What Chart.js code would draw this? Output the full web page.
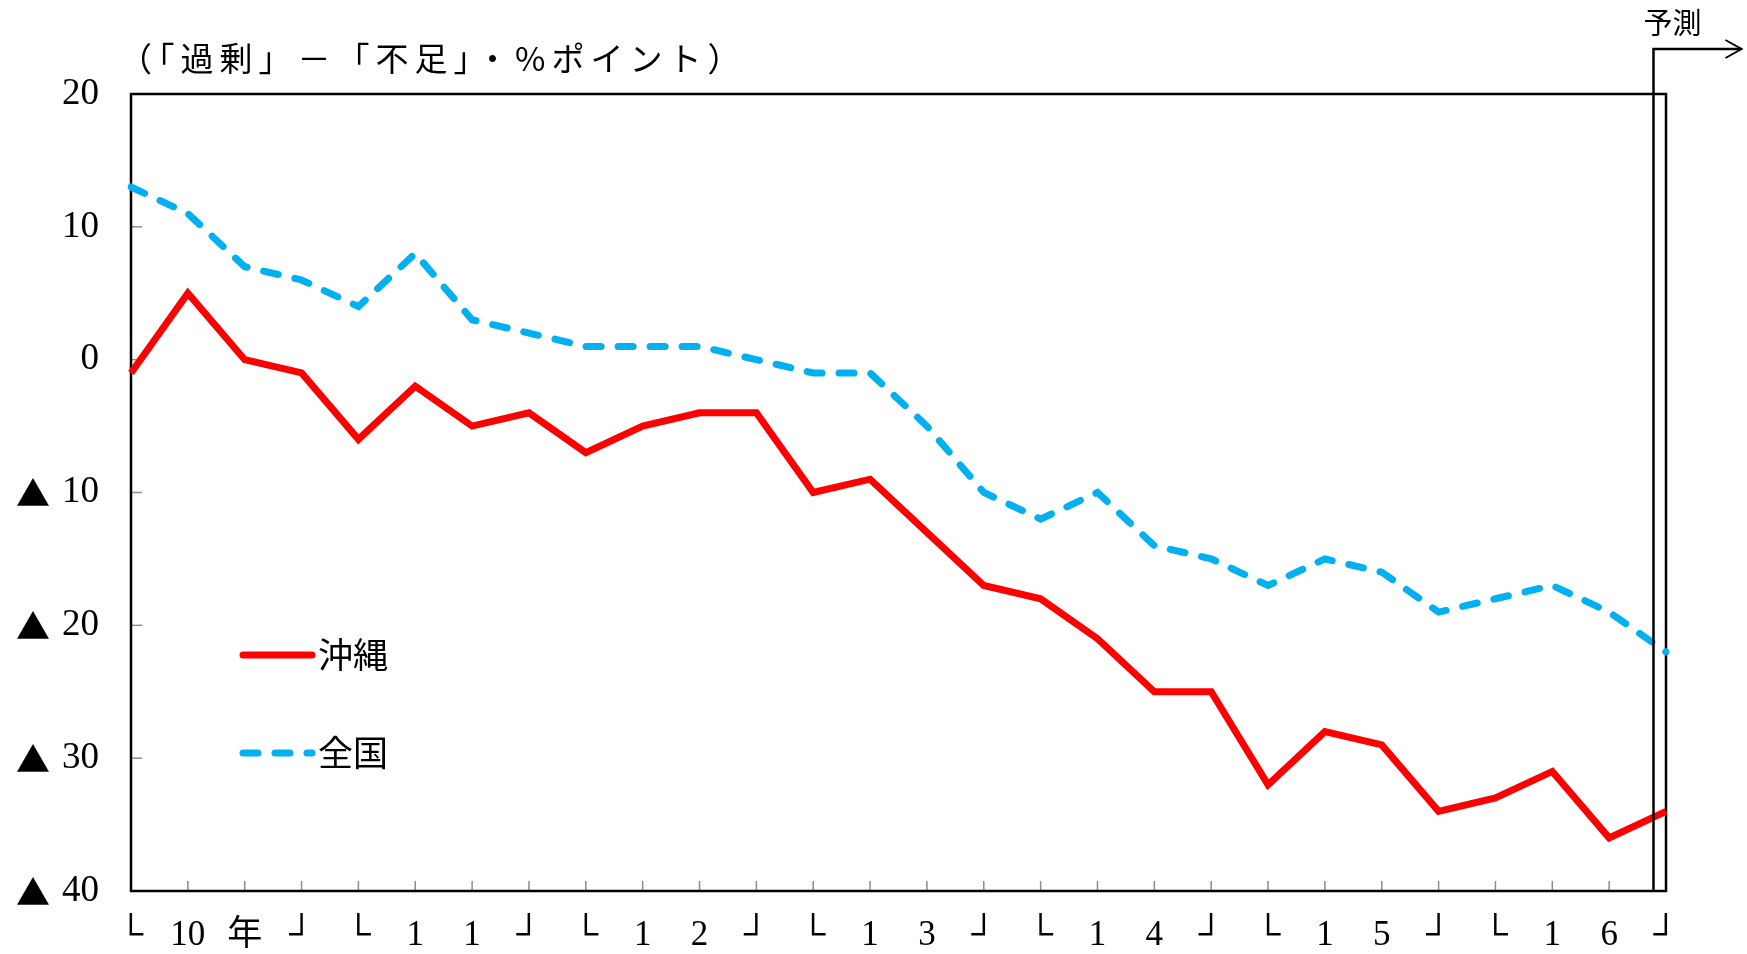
<!DOCTYPE html>
<html lang="ja">
<head>
    <meta charset="UTF-8">
    <title>沖縄と全国の推移</title>
    <script src="https://cdn.jsdelivr.net/npm/chart.js@4.4.0/dist/chart.umd.min.js"></script>
    <style>
        body {
            margin: 0;
            background: white;
        }
    </style>
</head>
<body>
    <canvas id="chart" width="1747" height="954"></canvas>

    <script>
        // 四半期ごとのラベル (10年〜16年)
        const xLabels = ['└', '10', '年', '┘', '└', '1', '1', '┘', '└', '1', '2', '┘', '└', '1', '3', '┘',
                         '└', '1', '4', '┘', '└', '1', '5', '┘', '└', '1', '6', '┘'];
        const okinawa = [-1, 5, 0, -1, -6, -2, -5, -4, -7, -5, -4, -4, -10, -9,
                         -13, -17, -18, -21, -25, -25, -32, -28, -29, -34, -33, -31, -36, -34];
        const zenkoku = [13, 11, 7, 6, 4, 8, 3, 2, 1, 1, 1, 0, -1, -1,
                         -5, -10, -12, -10, -14, -15, -17, -15, -16, -19, -18, -17, -19, -22];
        const seriesNames = ['沖縄', '全国'];
        const yTitle = '（「過剰」－「不足」・%ポイント）';
        const forecastLabel = '予測';
        const forecastAt = 26.78;   // 予測開始位置 (カテゴリ index)

        const RED = '#FF0000';
        const BLUE = '#00B0F0';
        const numFont = "'Liberation Serif', 'Noto Sans CJK JP', serif";
        const jpFont = "'Noto Sans CJK JP', sans-serif";

        const framePlugin = {
            id: 'frame',
            beforeDatasetsDraw(chart) {
                const { ctx, chartArea: a, scales } = chart;
                ctx.save();
                // 内向きの目盛り
                ctx.strokeStyle = '#8c8c8c';
                ctx.lineWidth = 1.5;
                scales.y.ticks.forEach(t => {
                    const y = scales.y.getPixelForValue(t.value);
                    ctx.beginPath();
                    ctx.moveTo(a.left, y);
                    ctx.lineTo(a.left + 11, y);
                    ctx.stroke();
                });
                for (let i = 1; i < xLabels.length; i++) {
                    const x = scales.x.getPixelForValue(i);
                    ctx.beginPath();
                    ctx.moveTo(x, a.bottom);
                    ctx.lineTo(x, a.bottom - 10);
                    ctx.stroke();
                }
                // 外枠
                ctx.strokeStyle = '#000';
                ctx.lineWidth = 2.5;
                ctx.strokeRect(a.left, a.top, a.right - a.left, a.bottom - a.top);

                // マイナス記号 (▲)
                ctx.fillStyle = '#000';
                ctx.textAlign = 'center';
                ctx.textBaseline = 'middle';
                ctx.font = '34px ' + jpFont;
                scales.y.ticks.forEach(t => {
                    if (t.value < 0) {
                        ctx.fillText('▲', 33, scales.y.getPixelForValue(t.value) + 1);
                    }
                });
                ctx.restore();
            },
            afterDatasetsDraw(chart) {
                const { ctx, chartArea: a, scales } = chart;
                ctx.save();

                // 予測ライン
                const x0 = scales.x.getPixelForValue(Math.floor(forecastAt));
                const x1 = scales.x.getPixelForValue(Math.ceil(forecastAt));
                const fx = x0 + (x1 - x0) * (forecastAt - Math.floor(forecastAt));
                const topY = a.top - 45;
                ctx.strokeStyle = '#000';
                ctx.lineWidth = 2.5;
                ctx.beginPath();
                ctx.moveTo(fx, a.bottom);
                ctx.lineTo(fx, topY);
                ctx.lineTo(fx + 88, topY);
                ctx.stroke();
                ctx.lineWidth = 2;
                ctx.beginPath();
                ctx.moveTo(fx + 72, topY - 9);
                ctx.lineTo(fx + 88, topY);
                ctx.lineTo(fx + 72, topY + 9);
                ctx.stroke();

                ctx.fillStyle = '#000';
                ctx.textBaseline = 'middle';
                ctx.textAlign = 'left';
                ctx.font = '29px ' + jpFont;
                ctx.fillText(forecastLabel, fx - 10, topY - 26);

                // 単位ラベル
                ctx.font = '33px ' + jpFont;
                ctx.letterSpacing = '6px';
                ctx.fillText(yTitle, a.left - 12, a.top - 36);
                ctx.letterSpacing = '0px';

                // 凡例
                const lx = a.left + 112;
                const items = [
                    { name: seriesNames[0], color: RED, dash: [], y: a.top + 561 },
                    { name: seriesNames[1], color: BLUE, dash: [15, 17], y: a.top + 659 }
                ];
                ctx.font = '35px ' + jpFont;
                items.forEach(it => {
                    ctx.strokeStyle = it.color;
                    ctx.lineWidth = 7;
                    ctx.lineCap = 'round';
                    ctx.setLineDash(it.dash);
                    ctx.beginPath();
                    ctx.moveTo(lx, it.y);
                    ctx.lineTo(lx + 69, it.y);
                    ctx.stroke();
                    ctx.setLineDash([]);
                    ctx.fillStyle = '#000';
                    ctx.fillText(it.name, lx + 75, it.y);
                });
                ctx.restore();
            }
        };

        const ctx = document.getElementById('chart').getContext('2d');
        new Chart(ctx, {
            type: 'line',
            data: {
                labels: xLabels,
                datasets: [{
                    label: seriesNames[0],
                    data: okinawa,
                    borderColor: RED,
                    borderWidth: 7,
                    pointRadius: 0,
                    tension: 0
                }, {
                    label: seriesNames[1],
                    data: zenkoku,
                    borderColor: BLUE,
                    borderWidth: 7,
                    borderDash: [15, 17],
                    borderCapStyle: 'round',
                    pointRadius: 0,
                    tension: 0
                }]
            },
            options: {
                responsive: false,
                animation: false,
                layout: {
                    padding: { top: 94, right: 81, left: 0, bottom: 0 }
                },
                plugins: {
                    legend: { display: false },
                    tooltip: { enabled: false }
                },
                scales: {
                    x: {
                        offset: false,
                        grid: { display: false, drawTicks: false },
                        border: { display: false },
                        ticks: {
                            autoSkip: false,
                            maxRotation: 0,
                            padding: 24,
                            color: '#000',
                            font: { family: numFont, size: 35 }
                        },
                        afterFit: s => { s.height = 63; }
                    },
                    y: {
                        min: -40,
                        max: 20,
                        grid: { display: false, drawTicks: false },
                        border: { display: false },
                        ticks: {
                            stepSize: 10,
                            padding: 32,
                            color: '#000',
                            font: { family: numFont, size: 37 },
                            callback: v => String(Math.abs(v))
                        },
                        afterFit: s => { s.width = 131; }
                    }
                }
            },
            plugins: [framePlugin]
        });
    </script>
</body>
</html>
